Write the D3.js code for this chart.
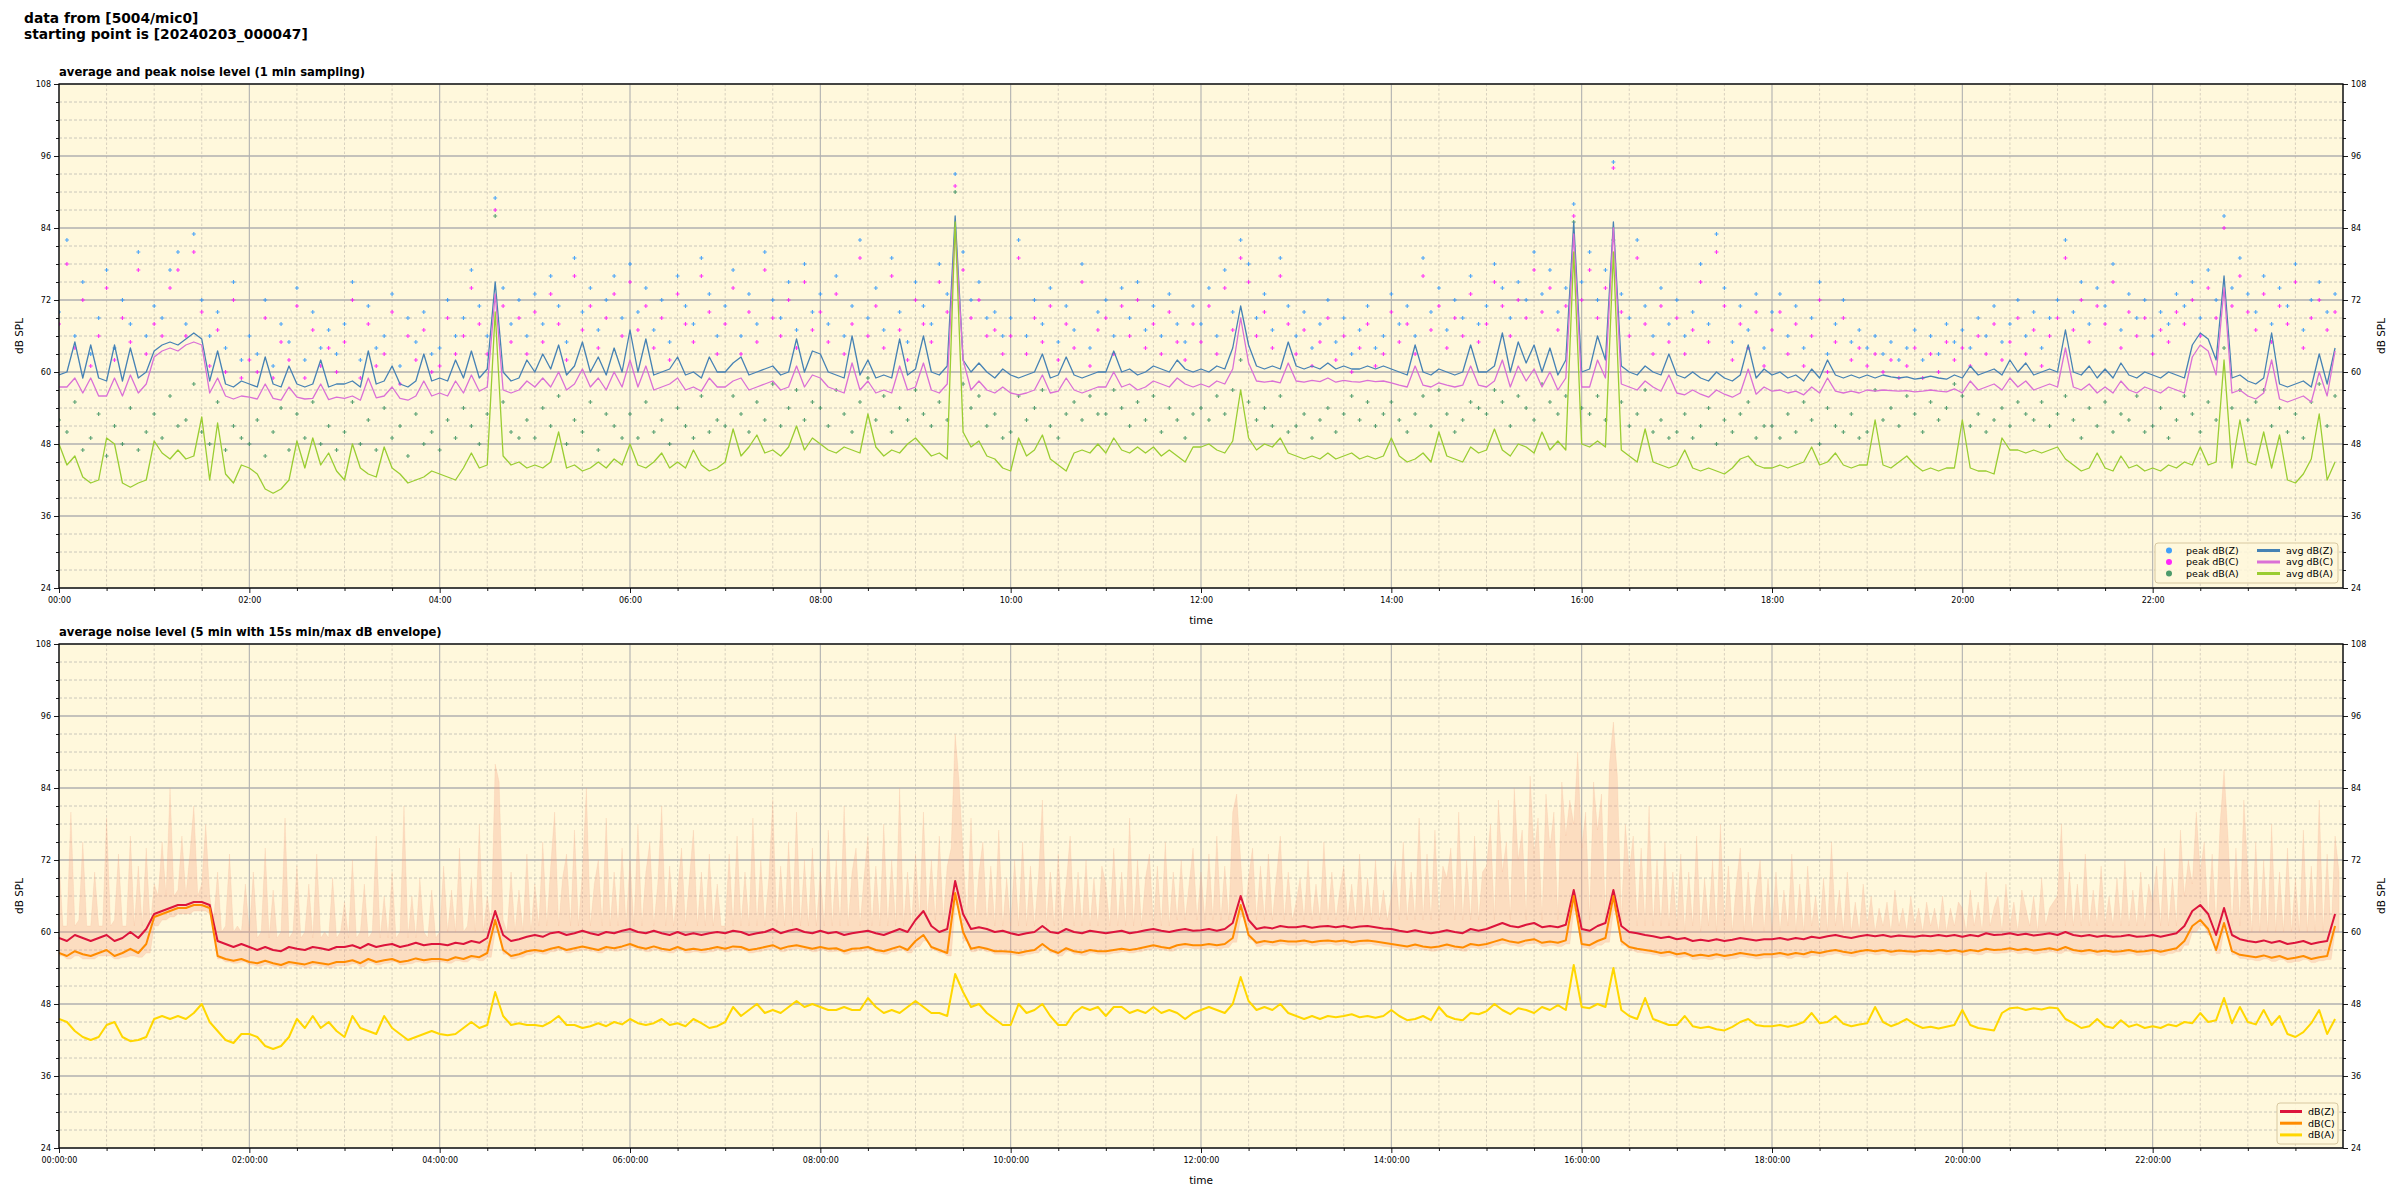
<!DOCTYPE html>
<html><head><meta charset="utf-8">
<script src="https://cdn.jsdelivr.net/npm/d3@7"></script>
<style>
body{margin:0;background:#fff}
svg{display:block}
text{font-family:"DejaVu Sans",sans-serif;fill:#000}
</style>
</head><body>
<svg id="chart" width="2400" height="1200"></svg>
<script>
// ---------- DATA (5-minute slots, 12 per hour) ----------
const avgZ = [
59.5,60,65,59,64.5,59,58.5,64.5,58.5,64,59,60,
63.5,64.5,65,64.5,65.5,66.5,65.5,58.5,63.5,58,57.5,58.5,
58,57.5,62.5,58,57.5,61,58,57.5,58,62,57.5,58,
58,58.5,57.5,63.5,58,58.5,61,58,57.5,58.5,63,58.5,
59,58.5,62,59,63.5,59,60.5,75,60,58.5,59,62,
60,63,60.5,64.5,59.5,61,65,60,62.5,59.5,64,60,
67,60,65.5,59.5,60,60.5,62.5,59.5,60,59,62.5,60,
60,61.5,62.5,59.5,60,60.5,61,59.5,60,65.5,60,63.5,
63,60,59.5,59,66,59.5,62,59,59.5,59,65.5,59.5,
60.5,66,60,59.5,61,86,62,60,61.5,60,59,60.5,
59.5,59,59.5,60,63,59,59.5,62.5,59.5,59,59.5,60,
60,63.5,60,60.5,59.5,60,61,60.5,60,62,60.5,60,
60.5,60,61,60.5,64,71,64.5,61,60.5,61,60.5,65,
61,60.5,61,60.5,61.5,60.5,61,60.5,60.5,61,60.5,61,
60.5,60,59.5,64.5,60,59.5,60.5,60,59.5,60,64.5,60,
60,61,66.5,60,65,61.5,64.5,60,64,59.5,62,85,
60,60.5,66,62,85,61,60,59.5,61,60,59.5,63,
59.5,59,60,59,58.5,60,59,58.5,59.5,64.5,59,60.5,
59.5,60,59,59.5,58.5,60.5,59,62,59.5,59,59.5,59,
59.5,59,59.5,59.2,59,59.2,58.8,59,59.3,59,58.8,59.5,
59,61,59.5,60,60.5,59.5,62,60,61.5,59.5,60,60.5,
60,67,60,59.5,61,59,60.5,59,61.5,59.5,59,60,
59.5,59,60,59.5,59,64.5,66.5,65.5,62,76,59,59.5,
58.5,58,59,66.5,58,57.5,58,58.5,57.5,63,58,64];
const avgC = [
57.5,57.5,59,56.5,59,56,56,59,56,59.5,56.5,58,
62.5,63.5,64,63.5,64.5,65,64.5,56.5,59,56,55.5,56,
55.8,55.5,58,55.6,55.3,57.5,55.8,55.5,55.6,58,55.4,55.8,
55.6,56,55.3,59,55.7,56,57.5,55.6,55.3,56,58.5,56,
56.5,56,58.5,56.5,59.5,56.8,57.5,73,57,56.5,57,58.5,
57.5,59,57.5,60,57,58,60.5,57.5,59,57,60,57.5,
62,57.5,61,57,57.5,58,59,57,57.5,56.8,59,57.5,
57.5,58.5,59,57,57.5,58,58.5,57,57.5,61,57.5,59.5,
59,57.5,57,56.5,61.5,57,58.5,56.5,57,56.5,61,57,
57.5,61.5,57,56.5,58,84,62,57,58.5,57,56.5,57.5,
56.5,56.2,56.5,57,59.5,56.5,56.8,59,57,56.5,57,57.5,
57.5,60,57.5,58,57,57.5,58.5,58,57.5,59,58,57.5,
58,57.5,58.5,58,60.5,69,61.5,58.5,58.3,58.5,58.2,61.5,
58.5,58.3,58.6,58.4,59,58.3,58.6,58.4,58.3,58.6,58.4,58.5,
58.2,57.8,57.5,61,57.8,57.5,58.2,57.8,57.5,57.8,61,57.8,
57.5,58.5,62,57.5,61,58.5,60.5,57.5,60,57,59,83,
57.5,57.5,62,59,84,58,57.5,57,58.5,57.5,56.8,59.5,
56.5,56.2,57,56.3,55.8,57,56.3,55.8,56.5,60.5,56.3,57.5,
56.8,57,56.5,56.8,56.2,57.5,56.5,59,56.8,56.5,56.8,56.5,
57,56.8,57,56.9,56.8,56.9,56.7,56.8,57,56.8,56.7,57.2,
56.5,58.5,57,57.5,58,57,59,57.5,58.5,57,57.5,58,
57.5,64,57.5,57,58,56.5,57.5,56.5,58.5,57,56.5,57.5,
57,56.5,57.5,57,56.5,62.5,64.5,63.5,59.5,74,56.5,57,
56,55.5,56.5,62,55.5,55,55.5,56,55,60,56,63.5];
const avgA = [
48,44.5,46,42.5,41.5,42,49,48,41.5,40.8,41.5,42,
48.5,46.5,45.5,47,45.5,46,52.5,42,51.5,43,41.5,44.5,
44,43,40.5,39.8,40.5,42,48.5,44,49,44.5,46.5,43.5,
42,48,44,43,42.5,47.5,44,43,41.5,42,42.5,43.5,
43,42.5,42,44,46.5,44,44.5,70,46,44.5,45,44,
44.5,44,45,50,44,44.5,43.5,44,45,44,45.5,44.5,
48,44.5,44,45,46.5,44,45,44,47,44.5,43.5,44,
45,50.5,46,47.5,49.5,46.5,47,46,47.5,51,47,49,
48,47,46.5,47.5,47,46.5,53,47.5,46,47,46.5,48,
49,47.5,46,46.5,45.5,85,50,47.5,48.5,46,45.5,44,
43.5,49,46,47,49.5,45.5,44.5,43.5,46.5,47,46.5,48,
46.5,49,47,46.5,47.5,46.5,47.5,46,47,46,45,47.5,
47.5,48,47,46.5,48.5,57,49,47,48,47.5,49,46.5,
46,45.5,46,45.5,46.5,45.5,46,46.5,45.5,46,45.5,46,
49,46,45,45.5,46.5,45,50,46,45.5,45,47.5,46.5,
47,50.5,47,46,48,47.5,46.5,50,47,48.5,47,80,
48,47.5,48.5,47.5,80,47,46,45,50.5,45,44.5,44,
44.5,47,44,43.5,44,43.5,43,44,45.5,46,44.5,44,
44,44.5,44,44.5,45,47.5,44.5,45,46.5,44.5,44,44.5,
44.5,52,44.5,44,45,46,44.5,43.5,44,43.5,44,44,
52,44,43.5,43.5,43,49,47,47,46.5,47,46.5,47,
47.5,45.5,44.5,43.5,44,46.5,44,43.5,46,44,44.5,43.5,
44,43.5,44.5,44,45,44.5,47.5,44.5,45,62,44,52,
45,44.5,50,44,49.5,42,41.5,43,45.5,53,42,45];
const peakZ = [
70,82,66,75,63,69,77,64,72,68,80,66,
71,69,77,80,68,83,72,66,70,64,75,62,
66,63,72,61,68,65,74,62,70,64,67,63,
68,75,62,71,64,66,73,61,69,65,70,63,
64,72,66,69,77,71,66,89,74,68,72,66,
73,68,76,71,65,79,70,74,67,72,76,69,
78,70,74,67,72,65,76,71,68,79,73,66,
71,77,66,73,68,80,72,69,75,67,78,70,
73,68,76,66,71,82,69,74,67,79,70,65,
75,71,68,78,73,93,80,72,75,69,70,66,
69,82,66,72,68,74,65,71,67,78,64,70,
72,66,74,69,75,67,71,66,73,68,65,71,
68,74,66,77,70,82,78,69,73,67,79,71,
66,70,64,68,72,65,69,63,67,71,64,66,
73,68,71,66,79,70,74,67,72,69,76,68,
71,78,74,69,75,72,80,73,77,70,74,88,
75,80,72,77,95,73,69,82,71,66,74,68,
72,66,70,78,68,83,74,65,71,67,73,64,
70,73,66,71,64,69,75,63,68,72,65,67,
64,66,63,65,62,64,67,62,66,63,68,65,
67,64,69,66,71,65,68,72,66,70,64,69,
72,82,70,75,68,74,71,78,67,73,69,72,
66,70,68,73,71,75,69,77,72,86,74,79,
73,70,76,68,74,71,78,67,72,75,70,73];
const peakC = [
68,78,64,72,61,66,74,62,69,65,77,63,
68,66,74,77,66,80,70,61,67,60,72,59,
62,60,69,59,65,62,71,59,67,61,64,60,
65,72,59,68,61,63,70,58,66,62,67,60,
61,69,63,66,74,68,63,87,71,65,69,63,
70,65,73,68,62,76,67,71,64,69,73,66,
75,67,71,64,69,62,73,68,65,76,70,63,
68,74,63,70,65,77,69,66,72,64,75,67,
70,65,73,63,68,79,66,71,64,76,67,62,
72,68,65,75,70,91,77,69,72,66,67,63,
66,79,63,69,65,71,62,68,64,75,61,67,
69,63,71,66,72,64,68,63,70,65,62,68,
65,71,63,74,67,79,75,66,70,64,76,68,
63,67,61,65,69,62,66,60,64,68,61,63,
70,65,68,63,76,67,71,64,69,66,73,65,
68,75,71,66,72,69,77,70,74,67,71,86,
72,77,69,74,94,70,66,79,68,63,71,65,
69,63,67,75,65,80,71,62,68,64,70,61,
67,70,63,68,61,66,72,60,65,69,62,64,
61,63,60,62,59,61,64,59,63,60,65,62,
64,61,66,63,68,62,65,69,63,67,61,66,
69,79,67,72,65,71,68,75,64,70,66,69,
63,67,65,70,68,72,66,74,69,84,71,76,
70,67,73,65,71,68,75,64,69,72,67,70];
const peakA = [
52,50,55,47,49,53,46,51,48,54,47,50,
53,49,56,51,52,58,50,48,55,47,51,49,
48,52,46,50,54,47,53,49,55,48,51,47,
50,55,48,52,47,54,49,51,46,53,48,50,
47,52,49,54,51,48,53,86,55,50,49,52,
49,54,51,56,48,52,50,55,47,53,51,49,
53,49,55,50,52,48,54,51,49,56,50,52,
51,56,53,50,55,52,58,51,54,57,52,55,
54,51,57,53,50,55,59,52,56,50,54,52,
57,53,51,55,52,90,58,54,56,51,53,49,
50,56,52,54,57,51,49,53,55,52,56,53,
53,57,54,51,55,52,56,50,54,52,49,53,
54,52,56,53,57,62,55,52,54,51,56,50,
51,53,49,52,54,50,53,56,52,55,51,53,
55,52,50,53,56,51,57,53,50,52,55,54,
53,57,55,51,56,54,52,58,55,53,56,85,
54,53,56,52,82,55,51,53,57,50,52,49,
50,53,49,51,54,48,52,50,53,55,49,51,
51,49,53,50,55,52,48,54,51,50,53,49,
50,57,52,54,51,56,53,50,55,52,54,58,
56,51,53,50,52,54,51,55,53,52,55,51,
53,56,52,49,54,51,55,50,53,52,56,50,
51,54,49,52,56,53,50,55,52,64,54,57,
52,55,57,51,54,50,53,49,55,58,51,56];

const dbZ = [
59,58.5,59.5,59,58.5,59,59.5,58.5,59,60,59,60.5,
63,63.5,64,64.5,64.5,65,65,64.5,58.5,58,57.5,58,
57.5,57,57.5,57,56.8,57.5,57.2,57,57.5,57.3,57,57.5,
57.5,57.8,57.3,58,57.5,57.8,58,57.5,57.8,58.2,57.8,58,
58,57.8,58.2,58,58.5,58.2,59,63.5,59.5,58.5,58.8,59.2,
59.5,59.2,59.8,60,59.5,59.8,60.2,59.8,59.5,60,59.8,60.2,
60.5,60,59.8,60.2,59.8,59.5,60,59.5,59.8,59.5,59.8,60,
59.8,60.2,60,59.5,59.8,60,60.5,59.8,60.2,60.5,60,59.8,
60.2,59.8,60,59.5,59.8,60,60.2,59.8,59.5,60,60.5,60,
62,63.5,61,60,60.5,68.5,63,60.5,60.8,60.5,60,60.2,
59.8,59.5,59.8,60,61,60,59.8,60.5,60,59.8,60.2,60,
59.8,60,60.2,59.8,60,60.3,60.5,60.2,60,60.3,60.5,60.2,
60.3,60.5,60.2,60.5,61.5,66,62,60.5,60.8,60.6,61,60.8,
60.8,61,60.7,60.9,61,60.8,61,60.7,60.9,61,60.8,60.6,
60.5,60.2,60,60.3,60,59.8,60,60.3,60,59.8,60.5,60.2,
60.5,61,61.5,61,60.8,61.2,61.5,60.8,61,60.8,61.2,67,
60.5,60.2,61,61.5,67,61,60,59.8,59.5,59.3,59,59.2,
58.8,59,58.5,58.7,58.5,58.8,58.5,58.7,59,58.8,58.6,58.8,
58.8,59,58.7,59,58.8,59.2,59,59.3,59.5,59.2,59,59.3,
59.5,59.3,59.5,59.2,59.4,59.3,59.2,59.4,59.3,59.5,59.3,59.5,
59.2,59.5,59.3,59.8,59.5,59.6,59.8,59.5,59.7,59.4,59.6,59.8,
59.5,60,59.5,59.3,59.5,59.2,59.4,59.2,59.3,59.5,59.2,59.3,
59.5,59.2,59.5,59.8,61,63.5,64.5,63,59.5,64,59.5,58.8,
58.5,58.3,58.6,58.2,58.5,58,58.2,58.5,58,58.3,58.5,63];
const dbC = [
56.5,56,56.8,56.3,56,56.5,57,56,56.5,57.2,56.5,58,
62.5,63,63.5,64,64,64.5,64.5,64,56,55.5,55.2,55.5,
55,54.8,55.2,54.8,54.5,55,54.8,54.6,55,54.8,54.6,55,
55,55.3,54.8,55.5,55,55.3,55.5,55,55.2,55.6,55.3,55.5,
55.5,55.3,55.8,55.5,56,55.8,56.5,62,57,56,56.3,56.8,
57,56.8,57.2,57.5,57,57.3,57.6,57.3,57,57.5,57.3,57.6,
58,57.5,57.2,57.6,57.2,57,57.5,57,57.2,57,57.2,57.5,
57.2,57.6,57.5,57,57.2,57.5,57.8,57.2,57.6,57.8,57.5,57.2,
57.5,57.2,57.3,56.8,57.2,57.3,57.5,57,56.8,57.2,57.6,57,
58.5,59.5,57.5,57,56.5,66.5,60,57.2,57.5,57.2,56.8,56.8,
56.7,56.5,56.8,57,58,57,56.5,57.3,56.8,56.6,57,56.8,
56.8,57,57.2,57,57.2,57.5,57.8,57.5,57.3,57.8,58,57.8,
57.8,58,57.8,58,59,64.5,59.5,58.2,58.5,58.3,58.6,58.4,
58.4,58.6,58.3,58.5,58.6,58.4,58.6,58.3,58.5,58.6,58.4,58.2,
58,57.8,57.6,57.9,57.6,57.4,57.6,57.9,57.6,57.4,58,57.8,
58,58.4,58.8,58.4,58.2,58.6,58.8,58.2,58.4,58.2,58.6,66,
58,57.8,58.5,59,66,58.5,57.5,57.2,57,56.8,56.5,56.7,
56.3,56.5,56,56.2,56,56.3,56,56.2,56.5,56.3,56.1,56.3,
56.3,56.5,56.2,56.5,56.3,56.7,56.5,56.8,57,56.7,56.5,56.8,
57,56.8,57,56.7,56.9,56.8,56.7,56.9,56.8,57,56.8,57,
56.7,57,56.8,57.2,57,57.1,57.3,57,57.2,56.9,57.1,57.3,
57,57.5,57,56.8,57,56.7,56.9,56.7,56.8,57,56.7,56.8,
57,56.7,57,57.3,58.5,61,62,60.5,57,61.5,56.8,56.2,
56,55.8,56.1,55.7,56,55.5,55.7,56,55.5,55.8,56,61];
const dbA = [
45.5,45,43.5,42.5,42,42.5,44.5,45,42.5,41.8,42,42.5,
45.5,46,45.5,46,45.5,46.5,48,45,43.5,42,41.5,43,
43,42.5,41,40.5,41,42.5,45.5,44,46,44,45,43.5,
42.5,46,44,43.5,43,46,44,43,42,42.5,43,43.5,
43,42.8,43,44,45,44,44.5,50,46,44.5,44.8,44.5,
44.5,44.3,45,46,44.5,44.5,44,44.3,44.8,44.3,45,44.6,
45.5,44.8,44.5,44.8,45.5,44.5,44.8,44.3,45.5,44.8,44,44.3,
45,47.5,46,47,48,46.5,47,46.5,47.5,48.5,47.5,48,
47.5,47,47,47.5,47,47,49,47.5,46.5,47,46.5,47.5,
48.5,47.5,46.5,46.5,46,53,50,47.5,48,46.5,45.5,44.5,
44.5,48,46.5,47,48,46,44.5,44.5,46.5,47.5,47,47.5,
46,47.5,47.5,46.5,47,46.5,47.5,46.5,47,46.5,45.5,46.5,
47,47.5,47,46.5,48,52.5,48.5,47,47.5,47,48,46.5,
46,45.5,46,45.5,46,45.8,46,46.3,45.8,46,45.7,46,
47,46,45.3,45.5,46,45.3,47.5,46,45.5,45.3,46.5,46.3,
46.8,48,47,46.3,47.3,47,46.5,47.5,47,47.8,47,54.5,
47.5,47.3,48,47.5,54,47,46,45.5,49,45.5,45,44.5,
44.5,46,44.3,44,44.2,43.8,43.6,44.2,45,45.5,44.5,44.3,
44.3,44.5,44.2,44.5,45,46.5,44.8,45,46,44.7,44.3,44.6,
44.8,47.5,45,44.3,44.8,45.5,44.6,44,44.2,43.9,44.2,44.5,
47,44.5,44,43.8,43.6,46.5,47.3,47.4,47,47.3,47.1,47.4,
47.3,45.5,44.8,44,44.3,45.5,44.3,44,45.3,44.2,44.6,44,
44.3,44,44.6,44.3,45,44.8,46.5,45,45.3,49,44.8,47.5,
45,44.6,47,44.5,46,43,42.5,43.3,44.8,47,43,45.5];
// envelope: max every 2.5 min (24 per hour), min every 5 min (12 per hour)
const envMax = [
72,61,61,80,61,62,75,61,61,70,61,61,79,61,62,73,61,61,76,61,71,61,74,61,
68,66,75,66,84,66,67,76,66,73,81,66,68,78,66,62,70,60,61,73,60,61,60,68,
60,70,59,60,74,59,67,59,60,79,59,60,71,59,60,68,59,73,59,60,59,69,59,60,
65,59,72,59,60,68,59,60,76,59,66,59,70,59,60,81,59,66,59,69,60,59,67,59,
60,71,60,67,60,74,60,61,69,60,78,60,66,61,88,85,62,60,70,60,67,60,73,60,
68,61,75,61,71,80,61,69,73,61,77,61,70,84,61,68,72,61,79,61,70,61,74,61,
72,61,78,61,70,75,61,68,81,61,71,61,67,74,61,69,77,61,70,61,73,61,68,61,
61,73,61,76,61,70,61,79,61,72,61,69,82,61,71,61,75,61,80,61,72,61,74,61,
70,61,77,61,72,61,81,61,70,74,61,69,76,61,71,61,78,61,72,61,84,61,70,61,
73,62,80,62,72,62,76,62,71,74,93,85,73,62,79,61,70,75,61,71,61,77,61,69,
61,72,61,75,61,71,61,69,82,61,70,61,73,61,68,76,61,70,61,72,61,69,61,71,
68,61,74,61,70,61,79,61,72,61,69,73,61,71,61,75,61,70,62,72,62,68,74,62,
70,62,73,62,76,62,71,62,80,83,72,62,69,74,62,71,62,73,62,69,76,62,70,62,
65,69,62,72,62,68,62,75,62,70,62,67,71,62,68,62,73,62,69,62,72,62,67,62,
66,72,62,75,62,70,62,79,62,73,62,77,62,71,69,74,62,80,62,72,62,76,62,70,
71,78,62,82,70,75,62,84,72,77,62,86,73,79,62,83,74,80,62,85,76,82,78,90,
74,80,62,85,77,83,62,88,95,86,62,78,70,76,61,74,61,81,61,72,61,75,61,70,
61,73,60,70,61,76,60,69,61,72,60,78,61,71,60,68,74,60,70,60,67,72,60,69,
60,70,60,67,61,73,60,68,60,71,61,66,60,69,60,75,61,67,60,70,60,65,60,68,
61,66,60,64,61,65,60,67,61,64,60,66,61,64,60,65,61,64,60,66,60,64,61,65,
64,60,67,61,65,60,70,61,64,66,60,68,61,65,60,67,64,61,66,60,69,61,64,65,
66,78,61,70,61,68,61,73,61,67,61,71,61,66,61,69,61,72,61,67,61,70,61,68,
65,71,61,74,61,69,61,77,66,72,68,80,70,75,62,73,61,78,87,76,61,74,61,82,
70,60,75,60,72,60,78,60,70,60,74,60,69,60,77,60,71,60,82,60,73,60,76,70];
const envMin = [
56,55.5,56,55.5,55.5,56,56,55.5,55.8,56,55.8,56.5,
61,62,62.5,63,63,63.5,63.5,63,55.5,55,54.8,55,
54.5,54.3,54.6,54.3,54,54.5,54.3,54,54.5,54.3,54,54.4,
54.4,54.7,54.2,54.9,54.5,54.8,55,54.5,54.7,55,54.8,55,
55,54.8,55.2,55,55.5,55.2,55.8,60,56.3,55.5,55.8,56.2,
56.5,56.3,56.7,57,56.5,56.8,57,56.8,56.5,57,56.8,57,
57.4,57,56.7,57,56.7,56.5,57,56.5,56.7,56.5,56.7,57,
56.7,57,57,56.5,56.7,57,57.2,56.7,57,57.2,57,56.7,
57,56.7,56.8,56.3,56.7,56.8,57,56.5,56.3,56.7,57,56.5,
57.5,58.5,57,56.5,56,64.5,58.5,56.7,57,56.7,56.3,56.3,
56.2,56,56.3,56.5,57.3,56.5,56,56.8,56.3,56.1,56.5,56.3,
56.3,56.5,56.7,56.5,56.7,57,57.2,57,56.8,57.2,57.4,57.2,
57.2,57.4,57.2,57.4,58.3,62.5,58.7,57.6,57.9,57.7,58,57.8,
57.8,58,57.7,57.9,58,57.8,58,57.7,57.9,58,57.8,57.6,
57.4,57.2,57,57.3,57,56.8,57,57.3,57,56.8,57.4,57.2,
57.4,57.8,58.1,57.8,57.6,58,58.1,57.6,57.8,57.6,58,63.5,
57.4,57.2,57.8,58.3,63.5,57.8,56.9,56.6,56.4,56.2,55.9,56.1,
55.7,55.9,55.4,55.6,55.4,55.7,55.4,55.6,55.9,55.7,55.5,55.7,
55.7,55.9,55.6,55.9,55.7,56.1,55.9,56.2,56.4,56.1,55.9,56.2,
56.4,56.2,56.4,56.1,56.3,56.2,56.1,56.3,56.2,56.4,56.2,56.4,
56.1,56.4,56.2,56.6,56.4,56.5,56.7,56.4,56.6,56.3,56.5,56.7,
56.4,56.8,56.4,56.2,56.4,56.1,56.3,56.1,56.2,56.4,56.1,56.2,
56.4,56.1,56.4,56.7,57.8,60,61,59.5,56.4,60.5,56.2,55.6,
55.4,55.2,55.5,55.1,55.4,54.9,55.1,55.4,54.9,55.2,55.4,60];

const topTickLabels = ["00:00","02:00","04:00","06:00","08:00","10:00","12:00","14:00","16:00","18:00","20:00","22:00"];
const botTickLabels = ["00:00:00","02:00:00","04:00:00","06:00:00","08:00:00","10:00:00","12:00:00","14:00:00","16:00:00","18:00:00","20:00:00","22:00:00"];
const yTickValues = [24,36,48,60,72,84,96,108];
const topLegend = ["peak dB(Z)","peak dB(C)","peak dB(A)","avg dB(Z)","avg dB(C)","avg dB(A)"];
const botLegend = ["dB(Z)","dB(C)","dB(A)"];

// ---------- DRAWING ----------
const svg = d3.select("#chart");
const L = 59, R = 2343;
const x = d3.scaleLinear().domain([0, 1440]).range([L, R]);
const slot5 = i => i * 5;      // minute of a 5-min sample
const slot25 = i => i * 2.5;   // minute of a 2.5-min sample

svg.append("text").attr("x", 24).attr("y", 23).style("font-size", "13.8px").style("font-weight", "bold").text("data from [5004/mic0]");
svg.append("text").attr("x", 24).attr("y", 39).style("font-size", "13.8px").style("font-weight", "bold").text("starting point is [20240203_000047]");

function panel(top, bottom, title) {
  const y = d3.scaleLinear().domain([24, 108]).range([bottom, top]);
  const g = svg.append("g");
  g.append("rect").attr("x", L).attr("y", top).attr("width", R - L).attr("height", bottom - top).attr("fill", "#fff8dc");
  const minorX = d3.range(0, 1441, 30).filter(m => m % 120 !== 0);
  const minorY = d3.range(24, 109, 3).filter(v => v % 12 !== 0);
  g.selectAll(".mx").data(minorX).join("line")
    .attr("x1", d => x(d)).attr("x2", d => x(d)).attr("y1", top).attr("y2", bottom)
    .attr("stroke", "#cfc8b8").attr("stroke-width", 0.8).attr("stroke-dasharray", "2.5,2");
  g.selectAll(".my").data(minorY).join("line")
    .attr("x1", L).attr("x2", R).attr("y1", d => y(d)).attr("y2", d => y(d))
    .attr("stroke", "#bdbab2").attr("stroke-width", 0.8).attr("stroke-dasharray", "3,2");
  g.selectAll(".Mx").data(d3.range(0, 1441, 120)).join("line")
    .attr("x1", d => x(d)).attr("x2", d => x(d)).attr("y1", top).attr("y2", bottom)
    .attr("stroke", "#b0b0b0").attr("stroke-width", 1.1);
  g.selectAll(".My").data(yTickValues).join("line")
    .attr("x1", L).attr("x2", R).attr("y1", d => y(d)).attr("y2", d => y(d))
    .attr("stroke", "#b0b0b0").attr("stroke-width", 1.4);
  svg.append("text").attr("x", L).attr("y", top - 8).style("font-size", "11.6px").style("font-weight", "bold").text(title);
  return {g, y};
}

function axes(top, bottom, y, tickLabels) {
  const g = svg.append("g");
  const majorX = d3.range(0, 1440, 120);
  const xAx = d3.axisBottom(x).tickValues(majorX).tickFormat((d, i) => tickLabels[i]).tickSize(5).tickPadding(4);
  const xMin = d3.axisBottom(x).tickValues(d3.range(0, 1441, 30).filter(m => m % 120 !== 0)).tickFormat("").tickSize(3);
  g.append("g").attr("transform", `translate(0,${bottom})`).call(xAx);
  g.append("g").attr("transform", `translate(0,${bottom})`).call(xMin);
  const minorY = d3.range(24, 109, 3).filter(v => v % 12 !== 0);
  g.append("g").attr("transform", `translate(${L},0)`).call(d3.axisLeft(y).tickValues(yTickValues).tickFormat(d3.format("d")).tickSize(5).tickPadding(3));
  g.append("g").attr("transform", `translate(${L},0)`).call(d3.axisLeft(y).tickValues(minorY).tickFormat("").tickSize(3));
  g.append("g").attr("transform", `translate(${R},0)`).call(d3.axisRight(y).tickValues(yTickValues).tickFormat(d3.format("d")).tickSize(5).tickPadding(3));
  g.append("g").attr("transform", `translate(${R},0)`).call(d3.axisRight(y).tickValues(minorY).tickFormat("").tickSize(3));
  g.selectAll(".domain").remove();
  g.selectAll(".tick line").attr("stroke", "#000").attr("stroke-width", 0.9);
  g.selectAll(".tick text").style("font-size", "8px").style("font-family", "DejaVu Sans");
  svg.append("rect").attr("x", L).attr("y", top).attr("width", R - L).attr("height", bottom - top)
    .attr("fill", "none").attr("stroke", "#000").attr("stroke-width", 1.3);
  svg.append("text").attr("x", (L + R) / 2).attr("y", bottom + 36).attr("text-anchor", "middle").style("font-size", "10.5px").text("time");
  const mid = (top + bottom) / 2;
  svg.append("text").attr("transform", `translate(19,${mid}) rotate(-90)`).attr("text-anchor", "middle").attr("dy", "0.35em").style("font-size", "10.5px").text("dB SPL");
  svg.append("text").attr("transform", `translate(2381,${mid}) rotate(-90)`).attr("text-anchor", "middle").attr("dy", "0.35em").style("font-size", "10.5px").text("dB SPL");
}

// ---- top panel ----
const T1 = 84, B1 = 588;
const p1 = panel(T1, B1, "average and peak noise level (1 min sampling)");
const y1 = p1.y;
svg.append("clipPath").attr("id", "clip1").append("rect").attr("x", L).attr("y", T1).attr("width", R - L).attr("height", B1 - T1);
const d1 = p1.g.append("g").attr("clip-path", "url(#clip1)");
const plus = "M-2,0H2M0,-2V2";
[[peakZ, "#1e90ff"], [peakC, "#ff00ff"], [peakA, "#2e8b57"]].forEach(([arr, col]) => {
  d1.append("g").selectAll("path").data(arr).join("path")
    .attr("d", plus).attr("transform", (d, i) => `translate(${x(slot5(i))},${y1(d)})`)
    .attr("stroke", col).attr("stroke-width", 1.1).attr("opacity", 0.8).attr("fill", "none");
});
const line1 = d3.line().x((d, i) => x(slot5(i))).y(d => y1(d));
[[avgZ, "#4682b4"], [avgC, "#da70d6"], [avgA, "#9acd32"]].forEach(([arr, col]) => {
  d1.append("path").datum(arr).attr("d", line1).attr("fill", "none").attr("stroke", col).attr("stroke-width", 1.3).attr("stroke-linejoin", "round");
});
axes(T1, B1, y1, topTickLabels);

{
  const lg = svg.append("g");
  lg.append("rect").attr("x", 2155).attr("y", 543).attr("width", 183).attr("height", 40).attr("rx", 3)
    .attr("fill", "#fff8dc").attr("fill-opacity", 0.85).attr("stroke", "#d8c8a0").attr("stroke-width", 1);
  const cols = ["#1e90ff", "#ff00ff", "#2e8b57", "#4682b4", "#da70d6", "#9acd32"];
  topLegend.forEach((name, i) => {
    const col = Math.floor(i / 3), row = i % 3;
    const yy = 550.5 + row * 11.5;
    if (col === 0) {
      lg.append("circle").attr("cx", 2169).attr("cy", yy).attr("r", 3).attr("fill", cols[i]).attr("opacity", 0.85);
      lg.append("text").attr("x", 2186).attr("y", yy).attr("dy", "0.35em").style("font-size", "9.5px").text(name);
    } else {
      lg.append("line").attr("x1", 2257).attr("x2", 2280).attr("y1", yy).attr("y2", yy).attr("stroke", cols[i]).attr("stroke-width", 3);
      lg.append("text").attr("x", 2286).attr("y", yy).attr("dy", "0.35em").style("font-size", "9.5px").text(name);
    }
  });
}

// ---- bottom panel ----
const T2 = 644, B2 = 1148;
const p2 = panel(T2, B2, "average noise level (5 min with 15s min/max dB envelope)");
const y2 = p2.y;
svg.append("clipPath").attr("id", "clip2").append("rect").attr("x", L).attr("y", T2).attr("width", R - L).attr("height", B2 - T2);
const d2 = p2.g.append("g").attr("clip-path", "url(#clip2)");
const env = d3.area().x((d, i) => x(slot25(i))).y0((d, i) => y2(envMin[Math.floor(i / 2)])).y1(d => y2(d));
d2.append("path").datum(envMax).attr("d", env).attr("fill", "#f4a082").attr("fill-opacity", 0.3).attr("stroke", "#f4a082").attr("stroke-opacity", 0.25).attr("stroke-width", 0.6);
const line2 = d3.line().x((d, i) => x(slot5(i))).y(d => y2(d));
[[dbZ, "#dc143c"], [dbC, "#ff8c00"], [dbA, "#ffd700"]].forEach(([arr, col]) => {
  d2.append("path").datum(arr).attr("d", line2).attr("fill", "none").attr("stroke", col).attr("stroke-width", 2).attr("stroke-linejoin", "round");
});
axes(T2, B2, y2, botTickLabels);

{
  const lg = svg.append("g");
  lg.append("rect").attr("x", 2277).attr("y", 1103).attr("width", 61).attr("height", 41).attr("rx", 3)
    .attr("fill", "#fff8dc").attr("fill-opacity", 0.85).attr("stroke", "#d8c8a0").attr("stroke-width", 1);
  const cols = ["#dc143c", "#ff8c00", "#ffd700"];
  botLegend.forEach((name, i) => {
    const yy = 1111.5 + i * 11.7;
    lg.append("line").attr("x1", 2280).attr("x2", 2302).attr("y1", yy).attr("y2", yy).attr("stroke", cols[i]).attr("stroke-width", 3);
    lg.append("text").attr("x", 2308).attr("y", yy).attr("dy", "0.35em").style("font-size", "9.5px").text(name);
  });
}
</script>
</body></html>
